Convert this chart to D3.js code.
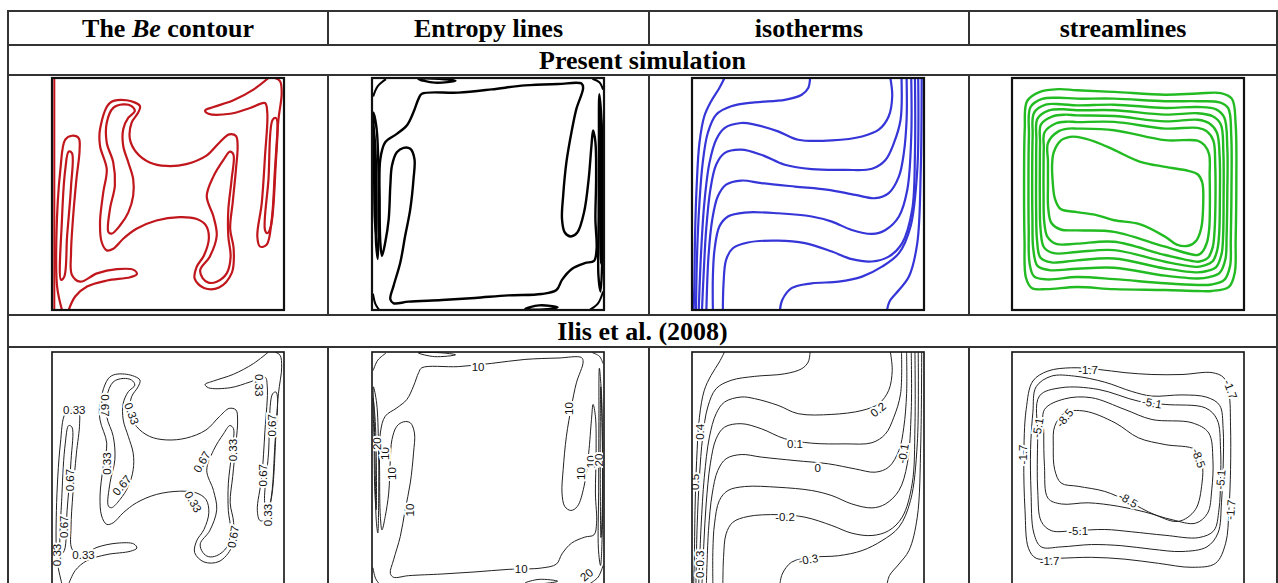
<!DOCTYPE html>
<html>
<head>
<meta charset="utf-8">
<script src="https://cdn.jsdelivr.net/npm/d3@7"></script>
<style>
  body { margin: 0; background: #fff; }
  svg text.head { font-family: "Liberation Serif", "Times New Roman", serif; font-weight: bold; }
</style>
</head>
<body>
<svg id="fig"></svg>
<script>
const W = 1278, H = 583;

// table text
const headers = [["The ", "Be", " contour"], ["Entropy lines"], ["isotherms"], ["streamlines"]];
const rowTitles = ["Present simulation", "Ilis et al. (2008)"];

// Be contour (levels 0.33 / 0.67)
const beCentre = [[20.7,22.1],[25,10.7],[32.1,9.6],[37.9,12.1],[37.1,15],[34.3,19.3],[33.6,26.4],[36.4,32.1],[42.1,36.4],[49.3,37.9],[57.9,37.1],[66.4,33.6],[72.1,27.9],[76.4,24.3],[79.3,25],[80,29.3],[79.3,39.3],[77.9,53.6],[76.8,65],[78.3,73.6],[77.5,84],[72,90.3],[65.5,90.5],[61.5,86.5],[62.3,81.5],[65.5,76.5],[67.6,69.3],[66.4,63.6],[62.1,60.7],[55,60],[45,61.4],[36.4,65],[30.7,69.3],[26.4,73.6],[23.6,74.3],[21.4,70.7],[20.7,62.1],[22.1,49.3],[23.6,39.3],[20.7,29.3]];
const beArmTopLeft = [[24.3,66.4],[25,56.4],[27.1,46.4],[26.4,36.4],[23.6,27.9],[23.6,19.3],[26.4,12.9],[30.7,11.4],[34.3,12.1],[35.7,14.3],[32.9,17.1],[30.7,22.1],[30.7,29.3],[32.9,36.4],[35,43.6],[35,50.7],[32.9,57.9],[29.3,63.6],[25.7,67.1]];
const beArmBottomRight = [[65,86.4],[63.9,82.7],[68,77],[71,68],[69.6,59.7],[66.7,51],[69.6,42.4],[73.9,35.3],[76.7,31.7],[78.2,33],[77.4,43.9],[76,56.8],[76,68.3],[77,77],[75.3,84.2],[71,87.8],[67.4,88.2]];
const beLeftTongue = [[4.3,100],[2.2,89.9],[1.9,68.3],[3.6,39.6],[5.7,26.6],[8.6,24.9],[11.5,25.9],[11.9,30.9],[10.5,43.9],[9,61.2],[8.2,75.5],[8.6,84.9],[12.2,87.8],[19.4,84.2],[28,82.4],[35.2,82.7],[36.6,84.5],[33.7,85.9],[23.7,87.3],[15.1,89.9],[10,94.2],[7.2,100]];
const beLeftInner = [[3.9,87],[4.3,61],[5.7,39.6],[7.2,31.7],[8.6,32.4],[8.2,46.8],[6.5,68.3],[5.3,85.6]];
const beRightTongue = [[93.3,0],[86.8,5],[78.2,9.6],[69.6,12.5],[66,14],[67.4,15.4],[76.8,15.4],[85.4,12.9],[91.8,10.8],[92.8,15.1],[91.8,33.8],[90.4,54],[88.5,68.3],[89.7,72.7],[92.5,71.9],[94.7,61.2],[96.1,39.6],[97.6,18],[99,6.5],[98.3,1.4],[96.1,0]];
const beRightInner = [[91.8,65.5],[93.3,43.9],[95.1,18],[96.6,17.3],[96.3,39.6],[94.3,64],[92.8,66.9]];
const beWall = [[1,0],[1,100]];

// Entropy lines
const entMain = [[21.5,6.8],[37.2,6.3],[51.6,4.9],[65.9,3.2],[80.2,2.6],[90.3,2.4],[91,4.3],[88.1,13.3],[86,23.3],[83.8,36.3],[82.4,50.7],[81.9,60.8],[83.1,66.6],[85.7,68.3],[88.5,66.6],[91.4,57.9],[93.4,43.5],[94.6,29.1],[95.3,22.6],[96.3,27.7],[96.6,43.5],[96.3,60.8],[96.8,73.8],[95.7,78.8],[91.7,79.8],[86,82.4],[81.9,87],[79.5,91.4],[73.1,93.1],[58.7,93.7],[44.4,94.8],[30.1,95.7],[15.8,96.4],[9.3,97.1],[7.9,95.4],[9.3,89.6],[12.2,79.5],[14.3,68],[16.5,56.5],[17.9,43.5],[18.3,34.9],[16.5,30.5],[13.6,30.1],[10.7,32],[8.6,37.8],[7.9,46.4],[7.2,60.8],[5.7,70.9],[4.3,76.7],[3.6,70.9],[3.3,53.6],[3.6,34.9],[5.7,27.7],[10.7,24.1],[15,20.5],[17.9,14.7],[20.1,8.9]];
const entLeftWall1 = [[0.6,15],[2,22],[2.8,40],[2.9,60],[2.5,78],[1.8,72],[1.4,50],[1,30]];
const entLeftWall2 = [[0.5,20],[1.4,30],[1.9,50],[1.8,68],[1.2,60],[0.9,40]];
const entRightWall1 = [[98,7],[99,20],[99.4,50],[99.2,80],[98.5,92],[97.6,85],[97.7,60],[97.8,30]];
const entRightWall2 = [[98.6,15],[99.3,40],[99.2,70],[98.7,80],[98.4,55],[98.4,30]];
const entTopWall = [[20,0.4],[27,2],[36,1.2],[29,0.3]];
const entBottomWall = [[66,99.6],[72,98],[80,98.8],[74,99.8]];
const entCorners = [[[0.5,8],[2.5,3.5],[6,0.5]], [[94,99.8],[97.5,97],[99.6,92]], [[95,0.3],[98,1.8],[99.6,5]], [[0.4,93],[1.5,97.5],[3,99.8]]];

// Isotherms
const isotherms = [
  [[14,0],[11.8,4.3],[8.2,10.1],[5.3,16.5],[3.2,28.1],[2,46.8],[1.3,68.3],[1,89.9],[0.7,100]],
  [[50.9,0],[50.1,4.3],[47.3,7.2],[40,9.4],[27,10.5],[16.9,12.2],[10.4,15.8],[6.8,23.7],[4.6,36.7],[3.2,54],[2.2,75.5],[1.7,100]],
  [[85.5,0],[86.3,7.9],[84.8,16.5],[80.5,22.3],[73.3,25.2],[60.3,26.9],[45.8,26.6],[37.1,23],[27,20.1],[21.2,19.4],[14,21.6],[10.4,26.6],[7.5,36.7],[5.3,54],[3.9,75.5],[2.9,100]],
  [[90.3,0],[89.9,18],[87,28.1],[83.4,35.3],[77.6,39.1],[66,39.6],[51.6,39.3],[40,37.4],[29.9,33.1],[21.2,30.9],[14,32.4],[10.4,37.4],[7.9,48.2],[6.1,65.5],[5.1,82.7],[4.3,100]],
  [[92.5,0],[92.5,18],[91.3,32.4],[89.2,42.4],[84.8,49.6],[79,51.8],[70.4,50.4],[58.8,48.2],[44.4,46.8],[29.9,45.3],[21.2,44.2],[14.7,46],[11.1,51.1],[8.7,61.2],[7.1,77],[6.2,100]],
  [[94.5,0],[94.5,25.2],[92.8,48.2],[89.2,59.7],[83.4,65.5],[77.6,67.2],[68.9,65.5],[60.3,61.9],[51.6,59.7],[37.1,58.3],[22.7,58],[15.5,59.7],[11.8,64],[9.7,74.1],[9,85.6],[9,100]],
  [[96.1,0],[96.1,32.4],[94.9,56.8],[90.6,71.2],[84.8,77],[77.6,79.1],[68.9,78.1],[60.3,74.8],[48.7,71.2],[37.1,70.1],[24.1,70.9],[17.6,73.4],[14.7,78.4],[13.6,88.5],[13.3,100]],
  [[97.5,0],[97.1,39.6],[94.2,64],[89.2,75.5],[81.9,81.3],[73.3,85.6],[63.2,87.8],[51.6,88.5],[42.9,90.6],[38.9,95.7],[37.9,100]],
  [[99,0],[98.6,39.6],[97.1,71.2],[93.5,85.6],[89.2,91.4],[85.1,96.4],[84.1,100]]
];

// Streamlines, present simulation (outer to inner)
const streamlines = [
  [[6.5,10],[12,6],[20,4.8],[28,5.3],[44,6],[66,7.2],[80,6.7],[90,6.5],[94.8,9],[96.4,20],[96.7,45],[96.4,70],[96,84],[93.5,90],[86,91.8],[80,91.8],[66,91.4],[44,91],[28,90.1],[15,91],[8.5,90.5],[6,86],[5.4,70],[5.2,45],[5.5,22]],
  [[8,12.5],[13,9],[20,8.5],[28,8.9],[44,8.9],[66,10],[80,10],[89.5,10.5],[93.2,13],[94.5,25],[94.6,48],[94.3,70],[94,81],[91.5,87],[86,89],[80,89.2],[66,88.5],[44,86.7],[28,85.8],[15,86.8],[9.5,85.5],[7.6,80],[7.2,65],[7.1,45],[7.3,25]],
  [[9.5,15],[14.5,11.5],[21,11.3],[28,11.8],[44,11.5],[66,12.9],[80,12.5],[88,13.5],[91.5,17],[92.8,30],[92.8,50],[92.5,68],[92,78],[89.5,84],[85,85.8],[80,86.4],[66,85.2],[44,81.8],[28,82.2],[16,82.8],[11,81],[9.2,74],[8.8,60],[8.7,42],[8.9,25]],
  [[11,17.5],[16,14],[22,13.5],[28,13.9],[44,13.9],[66,15.8],[80,15.2],[86.5,16.5],[90,20],[91.1,32],[91.2,52],[91,68],[90.3,76],[88,81.5],[84,83.2],[80,83.8],[66,82.1],[44,77.8],[28,78.6],[17,79.5],[12.3,77.5],[10.8,70],[10.4,56],[10.4,40],[10.5,27]],
  [[12.5,20],[17.5,16.5],[23,15.8],[28,16.1],[44,16.4],[66,18.7],[80,18],[85,19.5],[88.3,23.5],[89.5,34],[89.6,52],[89.3,67],[88.5,74],[86.5,79],[83,80.8],[80,81.4],[66,79.2],[44,74.2],[28,75],[18,75.5],[13.8,73],[12.3,65],[12,52],[12,38],[12.1,28]],
  [[14,23.5],[19,19.5],[24,18.8],[28,19],[44,18.9],[66,21.8],[80,21.5],[84,23],[86.8,27],[87.6,38],[87.7,53],[87.3,66],[86.5,73],[84.5,77.5],[82,78.8],[80,79.2],[66,76.3],[44,70.6],[28,71.4],[19,71.5],[15.3,68.5],[13.9,62],[13.6,50],[13.6,38],[13.7,30]],
  [[15.5,28],[20,23],[24.5,21.8],[28,21.8],[44,22.5],[66,26.8],[80,27],[83,29],[85,33],[85.2,42],[85.3,55],[85,65],[84,71],[82,75],[80,76.3],[66,72.7],[44,66.3],[28,65.7],[21,65.3],[17,62.5],[15.6,56],[15.5,46],[15.5,36]],
  [[18,32],[21,27],[25,25.4],[28,25.4],[36,27.5],[44,31],[55,36],[66,38.3],[76,40],[80,41.5],[82,45],[82.4,55],[81.5,65],[79.5,70],[76,72.3],[71,71.8],[66,68.4],[55,63],[44,61.3],[36,59],[28,57.8],[21,56.5],[18.5,52],[17.5,44],[17.3,37]]
];

// Streamlines, Ilis et al. (levels -1.7 ... -8.5)
const ilisStreamlines = [
  [[9,12.5],[15.5,8.2],[25.6,6.8],[37.1,7.5],[48.7,8.9],[60.3,9.7],[73.3,9.7],[86.3,8.9],[91.3,11.1],[93.5,17.6],[94.2,32],[94.2,50.7],[93.5,68],[92.1,82.4],[87.7,91.1],[77.6,92.8],[63.2,91.1],[48.7,89.3],[34.2,88.5],[19.8,88.9],[10.4,88.9],[7.1,84.6],[5.6,68],[5.1,46.4],[6.1,24.8]],
  [[10.4,15],[17,10.4],[27,10.4],[40,13],[51.6,17],[60.3,19],[73.3,18.5],[84,19.5],[89.5,23],[91,33],[91,50],[90.3,65],[88.8,78],[84,84],[73.3,86],[60.3,85],[47.3,83.5],[34.2,83],[21.2,84],[12.6,84],[9.4,78],[8.2,60],[8,42],[9,26]],
  [[11.8,19],[21.2,15.4],[37.1,16.1],[54.5,21.2],[66,22.6],[83.4,24.1],[88.4,29.1],[89.9,42],[89.9,55],[89.2,68],[87,77],[80.5,80],[66,79],[51.6,77.5],[40,76.5],[27,77],[16.9,77],[12.6,73],[11.1,60],[11.1,36.3]],
  [[14,24.8],[22.7,20.2],[34.2,19.7],[48.7,24.8],[60.3,29.1],[77.6,30.5],[84.8,34.9],[86.6,46.4],[86.1,59.4],[84.3,69.5],[79.1,73.8],[69,72.3],[57.4,69],[45.8,66.5],[32.8,65],[21.2,65.5],[15.5,63],[14,49.3],[13.7,34.9]],
  [[18.4,32],[22.7,26.2],[31.4,25.5],[44.4,30.5],[54.5,37],[66,39.9],[79,42.1],[81.9,47.8],[81.9,56.5],[79,68],[71.8,73],[61.7,70.2],[50.1,64.4],[40,60.1],[28.5,57.9],[21.2,56.5],[18.4,50.7],[17.8,40.6]]
];

// contour labels of the Ilis et al. panels: [x, y, text, angle]
const beLabels = [[9.6,25.1,"0.33",0],[22.9,23,"0.67",90],[34.4,26.5,"0.33",70],[23.6,48.1,"0.33",-90],[30.1,57.4,"0.67",-50],[7.9,55.2,"0.67",-90],[5,75.3,"0.67",-90],[2.1,87.5,"0.33",-90],[13.6,87.5,"0.33",0],[60.9,64.6,"0.33",60],[64.5,47.3,"0.67",-60],[78.1,42.3,"0.33",-90],[78.1,79.6,"0.67",-80],[91,53.1,"0.67",-90],[93.1,70.3,"0.33",-90],[94.6,31.6,"0.67",-90],[89.5,14.3,"0.33",90]];
const entLabels = [[45.7,6.5,"10",0],[85,24.4,"10",-90],[90,52.4,"10",-90],[94.3,47.3,"10",-90],[97.9,46.6,"20",-90],[8.6,52.4,"10",-90],[5.7,43.8,"10",-90],[2.1,39.5,"20",-90],[16.4,68.1,"10",-90],[64.3,93.3,"10",0],[92.5,96,"20",-40]];
const isoLabels = [[80.2,24.8,"0.2",-40],[44.4,39.7,"0.1",0],[54.2,49.8,"0",0],[91,43.8,"-0.1",-80],[3.6,34.4,"0.4",-90],[1.4,56,"0.5",-90],[40.1,71,"-0.2",0],[50.1,89.4,"-0.3",-10],[3.6,89,"0.3",-90],[3.6,96,"0",-90]];
const psiLabels = [[32.8,7.5,"-1.7",0],[60.3,21.9,"-5.1",10],[94.2,16.1,"-1.7",70],[22.7,28.4,"-8.5",-50],[11.1,32.7,"-5.1",-80],[4.6,44.2,"-1.7",-90],[80.5,45.7,"-8.5",70],[89.9,55,"-5.1",-85],[94.2,68,"-1.7",-85],[50.1,63.7,"-8.5",30],[28.5,76.9,"-5.1",0],[16.2,89.9,"-1.7",0]];

// ---------------- layout ----------------
const svg = d3.select("#fig").attr("width", W).attr("height", H);
svg.append("rect").attr("width", W).attr("height", H).attr("fill", "#fff");

const rowsY = [11, 45, 75, 315, 347];
const colsX = [8, 328, 649, 969, 1277];
const colMid = d3.pairs(colsX, (a, b) => (a + b) / 2);

// panels first, grid on top
const S = 232;
const panelX = [52, 372, 692, 1012];
const panelY = [78, 352];
const px = d3.scaleLinear().domain([0, 100]).range([0, S]);
const py = d3.scaleLinear().domain([0, 100]).range([0, S]);
const closedLine = d3.line().x(d => px(d[0])).y(d => py(d[1])).curve(d3.curveCatmullRomClosed.alpha(0.5));
const openLine = d3.line().x(d => px(d[0])).y(d => py(d[1])).curve(d3.curveCatmullRom.alpha(0.5));

function panel(col, row) {
  const id = `clip${col}${row}`;
  const g = svg.append("g").attr("transform", `translate(${panelX[col]},${panelY[row]})`);
  g.append("clipPath").attr("id", id).append("rect").attr("width", S).attr("height", S);
  const inner = g.append("g").attr("clip-path", `url(#${id})`).attr("fill", "none");
  g.append("rect").attr("width", S).attr("height", S)
    .attr("fill", "none").attr("stroke", "#111").attr("stroke-width", row ? 1.6 : 2.2);
  return inner;
}

function draw(g, lines, gen, color, width) {
  g.append("g").selectAll("path").data(lines).join("path")
    .attr("d", gen).attr("stroke", color).attr("stroke-width", width)
    .attr("stroke-linejoin", "round").attr("fill", "none");
}

function labels(g, list) {
  g.append("g").selectAll("text").data(list).join("text")
    .attr("transform", d => `translate(${px(d[0])},${py(d[1])}) rotate(${d[3]})`)
    .attr("text-anchor", "middle").attr("dy", "0.36em")
    .attr("font-family", "'Liberation Sans', Arial, sans-serif").attr("font-size", 11.5)
    .attr("fill", "#111").attr("stroke", "#fff").attr("stroke-width", 4)
    .attr("paint-order", "stroke").text(d => d[2]);
}

const red = "#c0161c", blue = "#3535d8", green = "#22bb22", ink = "#000", thin = "#222";
const beClosed = [beCentre, beArmTopLeft, beArmBottomRight, beLeftInner, beRightInner];
const beOpen = [beLeftTongue, beRightTongue];
const entClosed = [entMain, entLeftWall1, entLeftWall2, entRightWall1, entRightWall2, entTopWall, entBottomWall];

// present simulation
let g = panel(0, 0);
draw(g, beClosed, closedLine, red, 2.2);
draw(g, beOpen, openLine, red, 2.2);
draw(g, [beWall], openLine, red, 2);

g = panel(1, 0);
draw(g, entClosed, closedLine, ink, 2.4);
draw(g, entCorners, openLine, ink, 2);

g = panel(2, 0);
draw(g, isotherms, openLine, blue, 2.2);

g = panel(3, 0);
draw(g, streamlines, closedLine, green, 2.4);

// Ilis et al. (2008)
g = panel(0, 1);
draw(g, beClosed, closedLine, thin, 1);
draw(g, beOpen, openLine, thin, 1);
labels(g, beLabels);

g = panel(1, 1);
draw(g, entClosed, closedLine, thin, 1);
draw(g, entCorners, openLine, thin, 1);
labels(g, entLabels);

g = panel(2, 1);
draw(g, isotherms, openLine, thin, 1);
labels(g, isoLabels);

g = panel(3, 1);
draw(g, ilisStreamlines, closedLine, thin, 1);
labels(g, psiLabels);

// table grid
const grid = svg.append("g").attr("stroke", "#333").attr("stroke-width", 2);
rowsY.forEach(y => grid.append("line").attr("x1", colsX[0] - 1).attr("x2", colsX[4] + 1).attr("y1", y).attr("y2", y));
[[rowsY[0], rowsY[1]], [rowsY[2], rowsY[3]], [rowsY[4], H]].forEach(([a, b]) =>
  colsX.forEach(x => grid.append("line").attr("x1", x).attr("x2", x).attr("y1", a).attr("y2", b)));
[colsX[0], colsX[4]].forEach(x => grid.append("line").attr("x1", x).attr("x2", x).attr("y1", rowsY[0]).attr("y2", H));

// header texts
svg.selectAll("text.head").data(headers).join("text")
  .attr("class", "head").attr("x", (d, i) => colMid[i]).attr("y", 36.5)
  .attr("text-anchor", "middle").attr("font-size", 26)
  .selectAll("tspan").data(d => d).join("tspan")
  .attr("font-style", (d, i, n) => n.length > 1 && i === 1 ? "italic" : null)
  .text(d => d);

svg.selectAll("text.row").data(rowTitles).join("text")
  .attr("class", "head row").attr("x", (colsX[0] + colsX[4]) / 2)
  .attr("y", (d, i) => i ? 339.5 : 68.5)
  .attr("text-anchor", "middle").attr("font-size", 26)
  .text(d => d);
</script>
</body>
</html>
